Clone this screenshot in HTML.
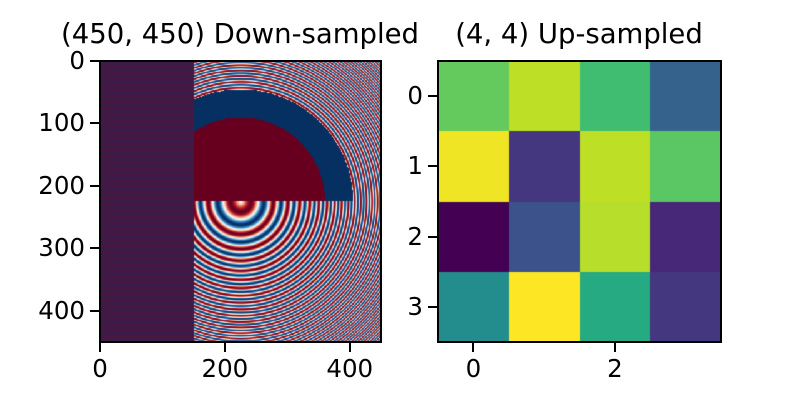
<!DOCTYPE html>
<html><head><meta charset="utf-8"><style>
body{margin:0;background:#fff;}
#root{position:relative;width:800px;height:400px;overflow:hidden;font-family:"DejaVu Sans","Liberation Sans",sans-serif;color:#000;}
.t{position:absolute;font-size:24.5px;white-space:nowrap;line-height:1;}
.title{font-size:27.5px;}
.tick{position:absolute;background:#000;}
.ax{position:absolute;border:2px solid #000;box-sizing:border-box;}
canvas{position:absolute;}
</style></head><body>
<div id="root">
<div class="t title" style="left:240px;top:21px;transform:translateX(-50%);">(450, 450) Down-sampled</div>
<div class="t title" style="left:579px;top:21px;transform:translateX(-50%);">(4, 4) Up-sampled</div>
<canvas id="cl" width="281" height="281" style="left:100px;top:61px;"></canvas>
<div class="ax" style="left:99px;top:60px;width:283px;height:283px;"></div>
<canvas id="cr" width="283" height="281" style="left:438px;top:61px;"></canvas>
<div class="ax" style="left:437px;top:60px;width:285px;height:283px;"></div>
</div>
<script>
const heatValues=[[0.76,0.90,0.69,0.31],[0.98,0.16,0.90,0.74],[0.0,0.25,0.89,0.11],[0.48,1.0,0.61,0.16]];
const leftXTicks=[0,200,400];
const leftYTicks=[0,100,200,300,400];
const rightXTicks=[0,2];
const rightYTicks=[0,1,2,3];
const N=450,f0=5,kk=100;
const viridis=['#440154','#482475','#414487','#355f8d','#2a788e','#21918c','#22a884','#44bf70','#7ad151','#bddf26','#fde725'];
const rdbu=['#053061','#2166ac','#4393c3','#92c5de','#d1e5f0','#f7f7f7','#fddbc7','#f4a582','#d6604d','#b2182b','#67001f'];
function hx(h){return [parseInt(h.substr(1,2),16),parseInt(h.substr(3,2),16),parseInt(h.substr(5,2),16)];}
function cmap(stops,t){t=Math.max(0,Math.min(1,t));const p=t*(stops.length-1);const i=Math.min(stops.length-2,Math.floor(p));const f=p-i;const a=hx(stops[i]),b=hx(stops[i+1]);return [0,1,2].map(k=>Math.round(a[k]+(b[k]-a[k])*f));}
const root=document.getElementById('root');
function txt(s,x,y,anchor,name){const d=document.createElement('div');d.className='t';d.textContent=s;d.style.left=x+'px';d.style.top=y+'px';d.style.transform=anchor;


root.appendChild(d);}
function tk(x,y,w,h,name){const d=document.createElement('div');d.className='tick';d.style.left=x+'px';d.style.top=y+'px';d.style.width=w+'px';d.style.height=h+'px';


root.appendChild(d);}
const L={x0:100,y0:61,w:281,h:281,min:0,max:450};
const lx=v=>L.x0+(v-L.min)/(L.max-L.min)*L.w;
const ly=v=>L.y0+(v-L.min)/(L.max-L.min)*L.h;
leftXTicks.forEach(v=>{tk(lx(v)-1,343,2,9,'left-x-tick');txt(String(v),lx(v),357,'translateX(-50%)','left-x-tick-label');});
leftYTicks.forEach(v=>{tk(90,ly(v)-1,9,2,'left-y-tick');txt(String(v),85,ly(v)-12,'translateX(-100%)','left-y-tick-label');});
const R={x0:438,y0:61,w:283,h:281};
const rx=v=>R.x0+(v+0.5)/4*R.w;
const ry=v=>R.y0+(v+0.5)/4*R.h;
rightXTicks.forEach(v=>{tk(rx(v)-1,343,2,9,'right-x-tick');txt(String(v),rx(v),357,'translateX(-50%)','right-x-tick-label');});
rightYTicks.forEach(v=>{tk(428,ry(v)-1,9,2,'right-y-tick');txt(String(v),423,ry(v)-12,'translateX(-100%)','right-y-tick-label');});
(function(){const c=document.getElementById('cl'),g=c.getContext('2d');const im=g.createImageData(281,281);
const stripeA=[58,28,74],stripeB=[82,22,58];
for(let py=0;py<281;py++){const j=Math.floor((py+0.5)/281*N);for(let px=0;px<281;px++){const i=Math.floor((px+0.5)/281*N);let col;
if(i<N/3){col=(py%3<1.5)?stripeA:stripeB;}
else{const x=i/N-0.5,y=j/N-0.5;const r=Math.sqrt(x*x+y*y);let a=Math.sin(Math.PI*2*(f0*r+kk*r*r/2));
if(j<N/2){if(r<0.3)a=1;else if(r<0.4)a=-1;}
col=cmap(rdbu,(a+1)/2);}
const o=(py*281+px)*4;im.data[o]=col[0];im.data[o+1]=col[1];im.data[o+2]=col[2];im.data[o+3]=255;}}
g.putImageData(im,0,0);})();
(function(){const c=document.getElementById('cr'),g=c.getContext('2d');
heatValues.forEach((row,r)=>row.forEach((v,k)=>{const col=cmap(viridis,v);g.fillStyle='rgb('+col.join(',')+')';
const x0=rx(k-0.5)-R.x0,x1=rx(k+0.5)-R.x0,y0=ry(r-0.5)-R.y0,y1=ry(r+0.5)-R.y0;
g.fillRect(Math.round(x0),Math.round(y0),Math.round(x1)-Math.round(x0),Math.round(y1)-Math.round(y0));}));})();
</script>
</body></html>
